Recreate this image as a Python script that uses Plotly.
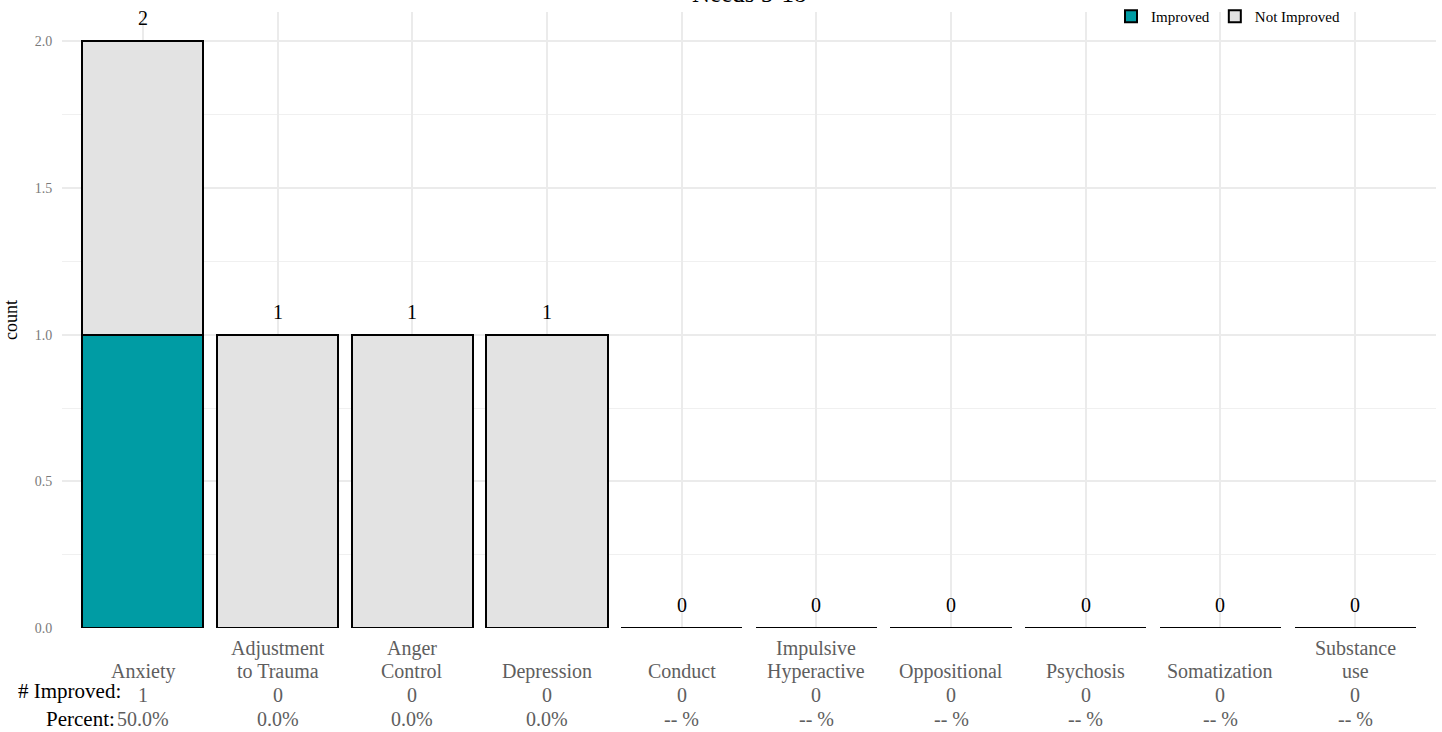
import plotly.graph_objects as go

categories = ["Anxiety", "Adjustment to Trauma", "Anger Control", "Depression", "Conduct",
              "Impulsive Hyperactive", "Oppositional", "Psychosis", "Somatization", "Substance use"]
label_lines = [["Anxiety"], ["Adjustment", "to Trauma"], ["Anger", "Control"], ["Depression"], ["Conduct"],
               ["Impulsive", "Hyperactive"], ["Oppositional"], ["Psychosis"], ["Somatization"], ["Substance", "use"]]
improved = [1, 0, 0, 0, 0, 0, 0, 0, 0, 0]
not_improved = [1, 1, 1, 1, 0, 0, 0, 0, 0, 0]
n_improved_labels = ["1", "0", "0", "0", "0", "0", "0", "0", "0", "0"]
percent_labels = ["50.0%", "0.0%", "0.0%", "0.0%", "-- %", "-- %", "-- %", "-- %", "-- %", "-- %"]
title_text = "Needs 5-18"

FONT = "Liberation Serif"
TEAL = "#009CA4"
GREY = "#E3E3E3"
LABEL_GREY = "#5E5E5E"

fig = go.Figure()
fig.add_trace(go.Bar(x=categories, y=improved, name="Improved",
                     marker=dict(color=TEAL, line=dict(color="black", width=2))))
fig.add_trace(go.Bar(x=categories, y=not_improved, name="Not Improved",
                     marker=dict(color=GREY, line=dict(color="black", width=2))))

totals = [a + b for a, b in zip(improved, not_improved)]
ann = []
for c, t in zip(categories, totals):
    ann.append(dict(x=c, y=t, xref="x", yref="y", text=str(t), showarrow=False,
                    yanchor="middle", yshift=23, font=dict(family=FONT, size=20, color="black")))

H = 616.0
def py(p):
    return (628 - p) / H

for c, lines, n, pc in zip(categories, label_lines, n_improved_labels, percent_labels):
    k = len(lines)
    for i, line in enumerate(lines):
        ypix = 671 - 23 * (k - 1 - i)
        ann.append(dict(x=c, y=py(ypix), xref="x", yref="paper", text=line, showarrow=False,
                        yanchor="middle", font=dict(family=FONT, size=20, color=LABEL_GREY)))
    ann.append(dict(x=c, y=py(695), xref="x", yref="paper", text=n, showarrow=False,
                    yanchor="middle", font=dict(family=FONT, size=20, color=LABEL_GREY)))
    ann.append(dict(x=c, y=py(719), xref="x", yref="paper", text=pc, showarrow=False,
                    yanchor="middle", font=dict(family=FONT, size=20, color=LABEL_GREY)))

ann.append(dict(x=(123 - 62) / 1374, y=py(691), xref="paper", yref="paper", text="# Improved:",
                showarrow=False, xanchor="right", yanchor="middle",
                font=dict(family=FONT, size=21, color="black")))
ann.append(dict(x=(117 - 62) / 1374, y=py(719), xref="paper", yref="paper", text="Percent:",
                showarrow=False, xanchor="right", yanchor="middle",
                font=dict(family=FONT, size=21, color="black")))
ann.append(dict(x=0.5, y=py(-6), xref="paper", yref="paper", text=title_text,
                showarrow=False, xanchor="center", yanchor="middle",
                font=dict(family=FONT, size=25, color="black")))

fig.update_layout(
    width=1442, height=732,
    margin=dict(l=62, r=6, t=12, b=104, autoexpand=False),
    barmode="stack", bargap=0.1,
    plot_bgcolor="white", paper_bgcolor="white",
    font=dict(family=FONT),
    showlegend=True,
    legend=dict(orientation="h", xref="container", x=1345 / 1442, xanchor="right",
                yref="container", y=1, yanchor="top",
                font=dict(family=FONT, size=15, color="black"), bgcolor="rgba(0,0,0,0)",
                traceorder="normal", itemwidth=30),
    annotations=ann,
)
fig.update_xaxes(range=[-0.6, 9.6], showticklabels=False, showgrid=True, gridcolor="#EBEBEB",
                 gridwidth=1.5, zeroline=False, showline=False, ticks="")
fig.update_yaxes(range=[0, 2.1], dtick=0.5, tickformat=".1f", showgrid=True, gridcolor="#EBEBEB",
                 gridwidth=1.5, zeroline=False, showline=False,
                 minor=dict(dtick=0.25, showgrid=True, gridcolor="#F0F0F0", gridwidth=1),
                 ticks="outside", ticklen=6, tickcolor="rgba(0,0,0,0)",
                 tickfont=dict(family=FONT, size=14, color="#7A7A7A"),
                 title=dict(text="count", font=dict(family=FONT, size=18, color="black"), standoff=12))

fig.write_html("out.html", config={"displayModeBar": False},
               post_script="document.body.style.margin='0px';")
